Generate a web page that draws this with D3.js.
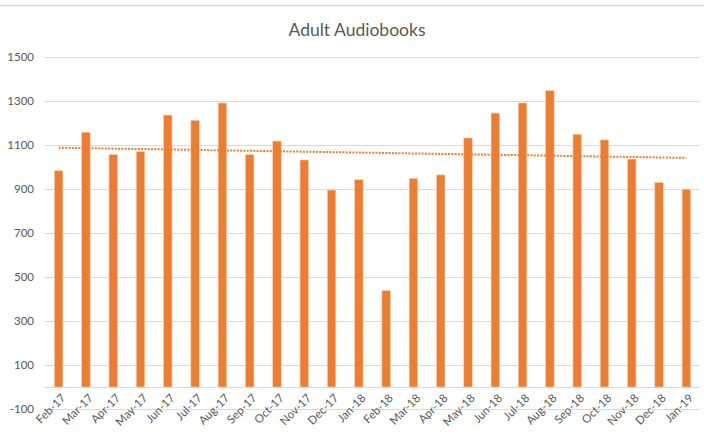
<!DOCTYPE html>
<html>
<head>
<meta charset="utf-8">
<script src="https://cdn.jsdelivr.net/npm/d3@7"></script>
<style>
  html, body { margin: 0; padding: 0; background: #fff; }
  svg { display: block; }
  text { font-family: Lato, "Open Sans", sans-serif; fill: #595959; }
</style>
</head>
<body>
<svg id="chart" width="704" height="437"></svg>
<script>
const title = "Adult Audiobooks";
const months = ["Feb-17","Mar-17","Apr-17","May-17","Jun-17","Jul-17","Aug-17","Sep-17","Oct-17","Nov-17","Dec-17","Jan-18",
                "Feb-18","Mar-18","Apr-18","May-18","Jun-18","Jul-18","Aug-18","Sep-18","Oct-18","Nov-18","Dec-18","Jan-19"];
const values = [983,1158,1056,1070,1236,1212,1291,1056,1118,1032,895,942,
                438,948,964,1132,1245,1291,1347,1149,1123,1036,930,899];
const yTicks = [-100,100,300,500,700,900,1100,1300,1500];

const svg = d3.select("#chart");
const W = 704, H = 437;

// top border line
svg.append("line").attr("x1", 0).attr("x2", W).attr("y1", 5.5).attr("y2", 5.5)
  .attr("stroke", "#d9d9d9").attr("stroke-width", 1.5);

const x = d3.scaleBand().domain(months).range([45, 700]).paddingInner(0.69).paddingOuter(0.345);
const y = d3.scaleLinear().domain([-100, 1500]).range([409, 57]);

// gridlines
svg.append("g").selectAll("line").data(yTicks).join("line")
  .attr("x1", 45).attr("x2", 700)
  .attr("y1", d => Math.round(y(d)) + 0.5).attr("y2", d => Math.round(y(d)) + 0.5)
  .attr("stroke", "#d9d9d9").attr("stroke-width", 1);

// y axis labels
const yAxis = d3.axisLeft(y).tickValues(yTicks).tickSize(0).tickPadding(0).tickFormat(d => String(d));
const gy = svg.append("g").attr("transform", "translate(34,0)").call(yAxis);
gy.select(".domain").remove();
gy.selectAll("text").style("font-size", "11.5px").attr("fill", "#595959")
  .style("font-family", "Lato, sans-serif");

// bars
svg.append("g").selectAll("rect").data(values).join("rect")
  .attr("x", (d, i) => x(months[i]))
  .attr("width", x.bandwidth())
  .attr("y", d => y(d))
  .attr("height", d => y(0) - y(d))
  .attr("fill", "#ED7D31")
  .attr("stroke", "#f8cbad").attr("stroke-width", 0.6);

// zero axis line
svg.append("line").attr("x1", 45).attr("x2", 700)
  .attr("y1", Math.round(y(0)) + 0.5).attr("y2", Math.round(y(0)) + 0.5)
  .attr("stroke", "#d9d9d9").attr("stroke-width", 1);

// linear trendline (least squares over category index)
const n = values.length;
const xs = d3.range(1, n + 1);
const mx = d3.mean(xs), my = d3.mean(values);
const slope = d3.sum(xs, (xi, i) => (xi - mx) * (values[i] - my)) / d3.sum(xs, xi => (xi - mx) ** 2);
const icpt = my - slope * mx;
const cx = i => x(months[i]) + x.bandwidth() / 2;
svg.append("line")
  .attr("x1", cx(0)).attr("y1", y(icpt + slope * 1))
  .attr("x2", cx(n - 1)).attr("y2", y(icpt + slope * n))
  .attr("stroke", "#ED7D31").attr("stroke-width", 2)
  .attr("stroke-dasharray", "2,1.3");

// x axis labels
const xAxis = d3.axisBottom(x).tickSize(0).tickPadding(0);
const gx = svg.append("g").attr("transform", "translate(0,393)").call(xAxis);
gx.select(".domain").remove();
gx.selectAll("text")
  .style("font-size", "11.5px").attr("fill", "#595959").style("font-family", "Lato, sans-serif")
  .attr("text-anchor", "end").attr("dy", "0.7em").attr("dx", "0")
  .attr("transform", "translate(2,0) rotate(-45)");

// title
svg.append("text").attr("x", 357).attr("y", 36).attr("text-anchor", "middle")
  .style("font-size", "17.5px").text(title);
</script>
</body>
</html>
